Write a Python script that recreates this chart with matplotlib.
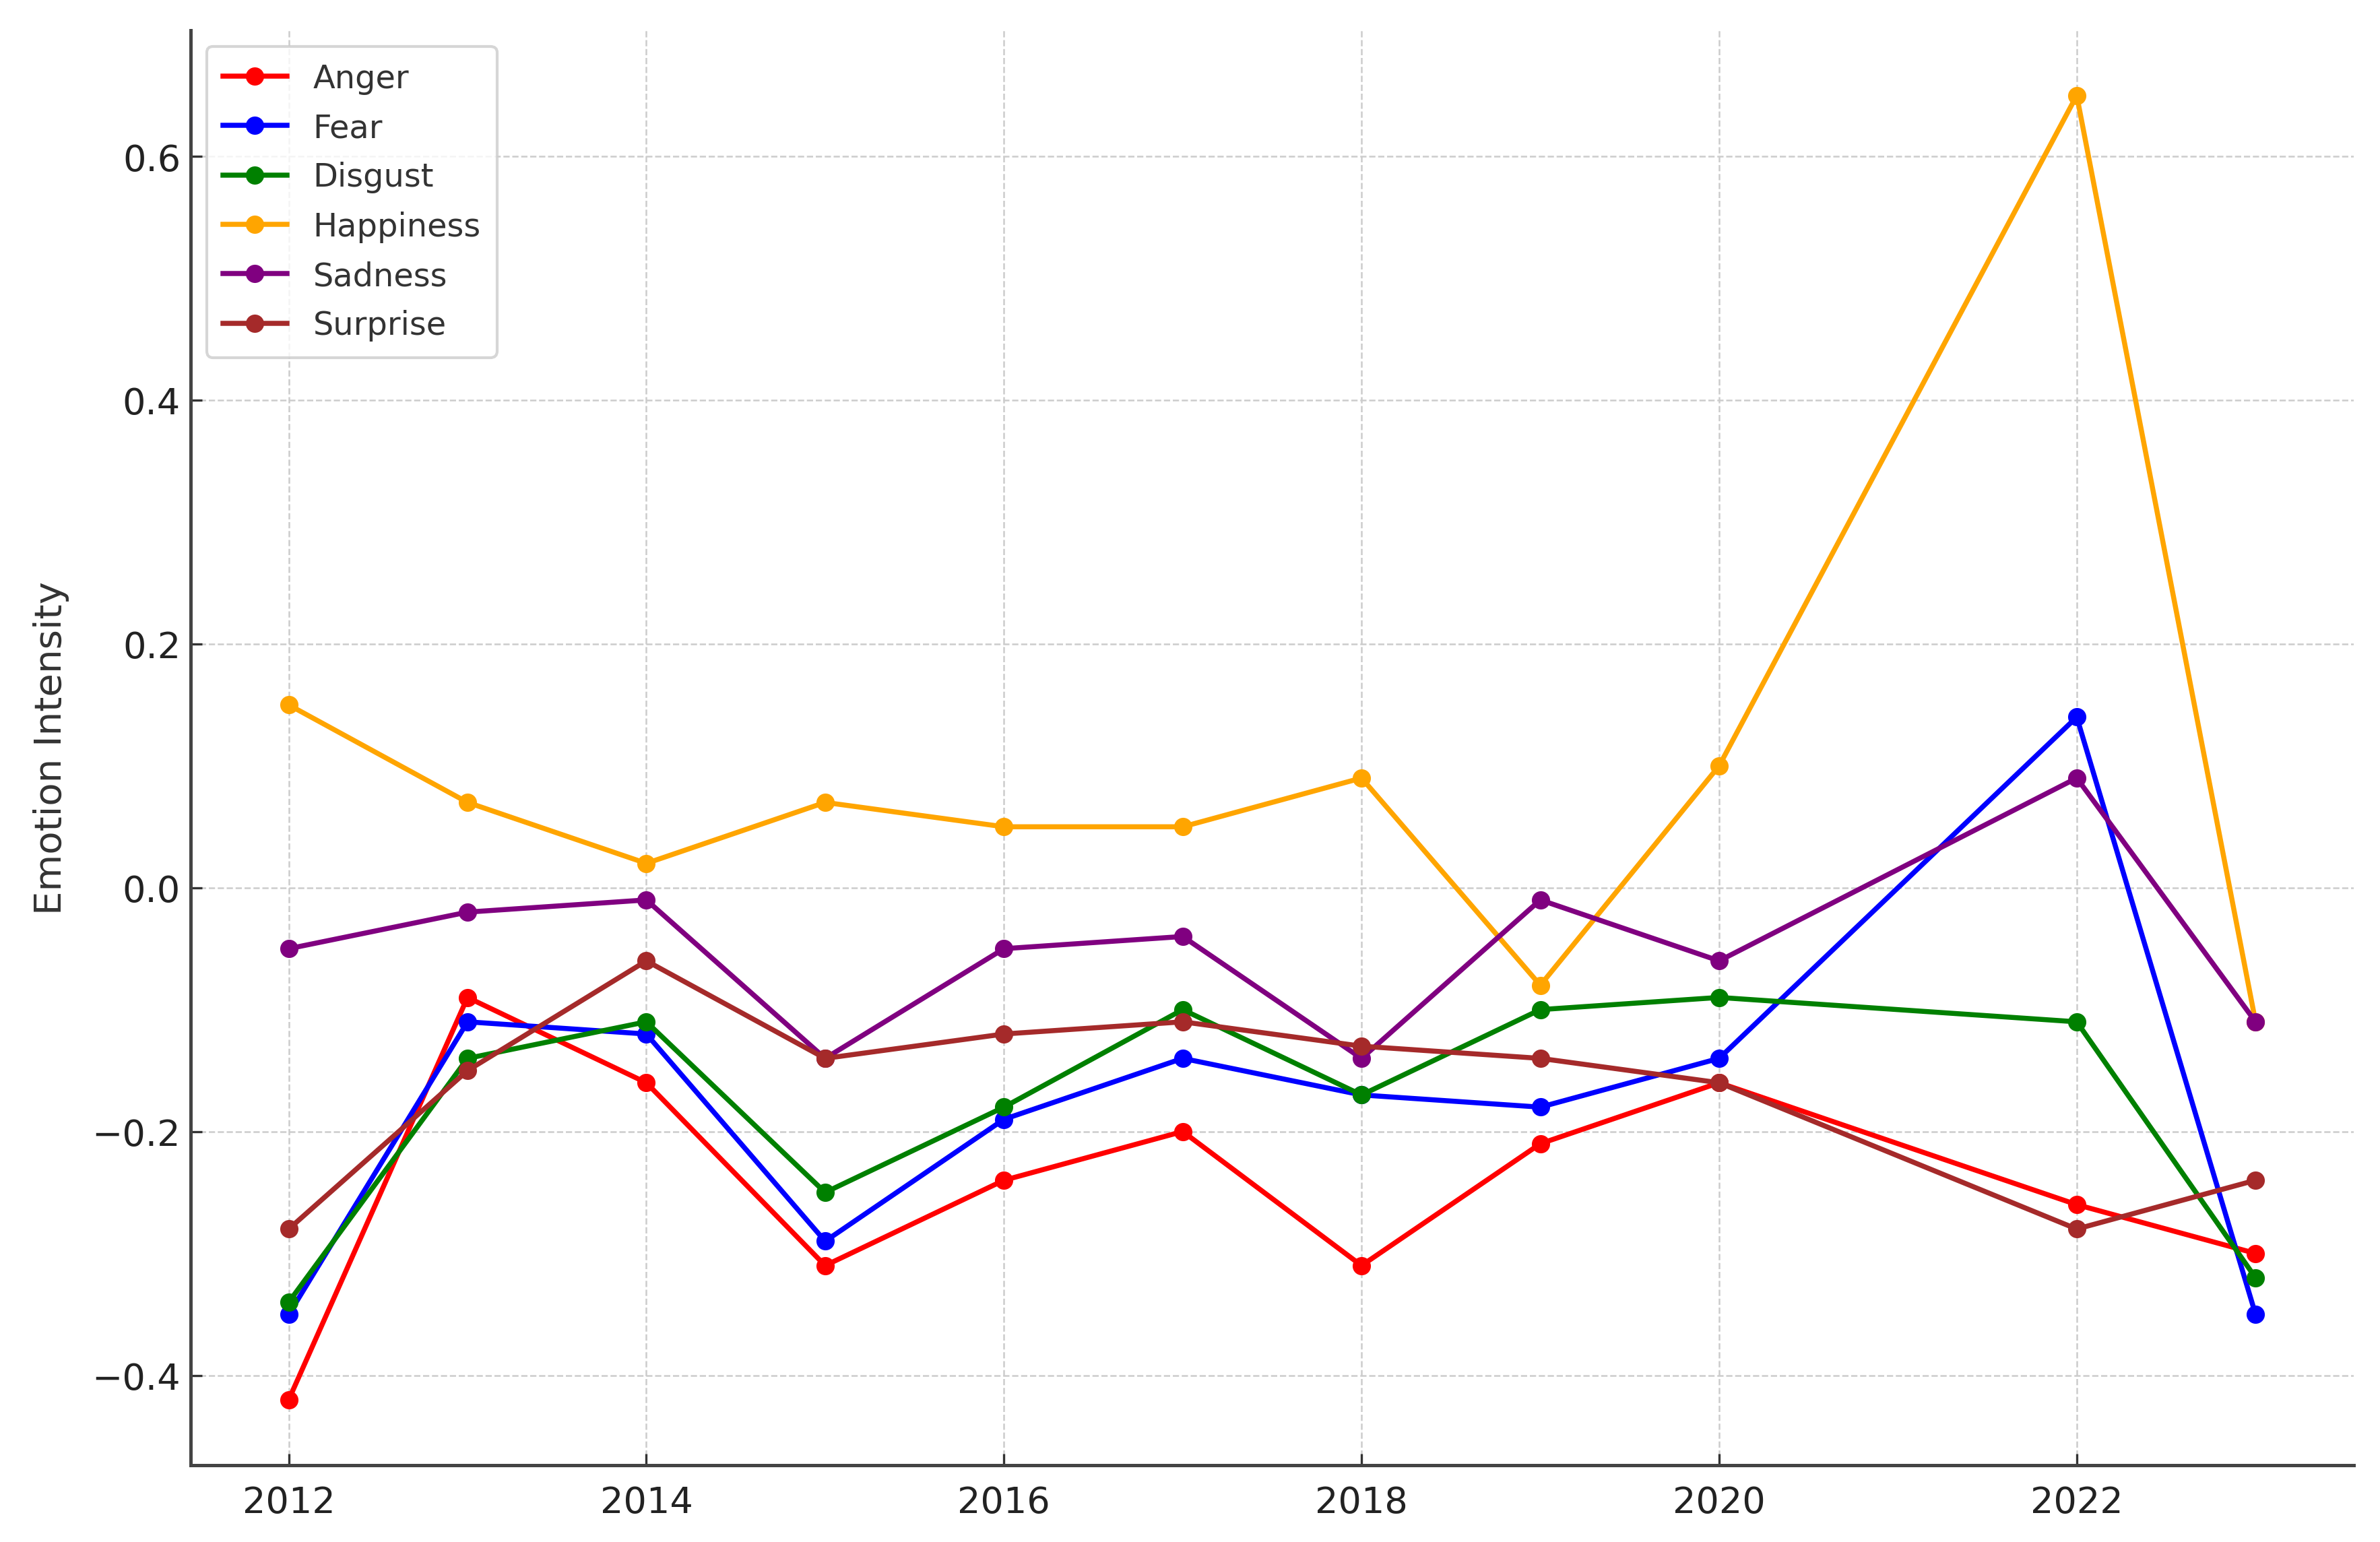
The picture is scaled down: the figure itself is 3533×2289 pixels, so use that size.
import matplotlib
matplotlib.use('Agg')
import matplotlib.pyplot as plt

# Datos del grafico
years = [2012, 2013, 2014, 2015, 2016, 2017, 2018, 2019, 2020, 2022, 2023]
anger = [-0.42, -0.09, -0.16, -0.31, -0.24, -0.20, -0.31, -0.21, -0.16, -0.26, -0.30]
fear = [-0.35, -0.11, -0.12, -0.29, -0.19, -0.14, -0.17, -0.18, -0.14, 0.14, -0.35]
disgust = [-0.34, -0.14, -0.11, -0.25, -0.18, -0.10, -0.17, -0.10, -0.09, -0.11, -0.32]
happiness = [0.15, 0.07, 0.02, 0.07, 0.05, 0.05, 0.09, -0.08, 0.10, 0.65, -0.11]
sadness = [-0.05, -0.02, -0.01, -0.14, -0.05, -0.04, -0.14, -0.01, -0.06, 0.09, -0.11]
surprise = [-0.28, -0.15, -0.06, -0.14, -0.12, -0.11, -0.13, -0.14, -0.16, -0.28, -0.24]

series = [
    ('Anger', anger, 'red'),
    ('Fear', fear, 'blue'),
    ('Disgust', disgust, 'green'),
    ('Happiness', happiness, 'orange'),
    ('Sadness', sadness, 'purple'),
    ('Surprise', surprise, 'brown'),
]

fig, ax = plt.subplots(figsize=(11.777, 7.633), dpi=300)
fig.subplots_adjust(left=0.08, right=0.989, top=0.98, bottom=0.05)

for name, vals, color in series:
    ax.plot(years, vals, marker='o', color=color, label=name, linewidth=1.8, markersize=5.5)

ax.set_ylabel('Emotion Intensity', fontsize=13.5, color='#333333', labelpad=8)
ax.set_yticks([-0.4, -0.2, 0.0, 0.2, 0.4, 0.6])
ax.set_xticks([2012, 2014, 2016, 2018, 2020, 2022])
ax.tick_params(axis='both', direction='in', labelsize=13, labelcolor='#222222', color='#333333', length=4)
ax.tick_params(axis='x', pad=7)

ax.grid(True, linestyle='--', color='#cccccc', linewidth=0.6)
ax.spines['top'].set_visible(False)
ax.spines['right'].set_visible(False)
ax.spines['left'].set_color('#444444')
ax.spines['bottom'].set_color('#444444')
ax.spines['left'].set_linewidth(1.2)
ax.spines['bottom'].set_linewidth(1.2)

leg = ax.legend(loc='upper left', fontsize=11.5, frameon=True, borderpad=0.5, labelspacing=0.55)
for t in leg.get_texts():
    t.set_color('#333333')

fig.savefig('out.png', dpi=300)
